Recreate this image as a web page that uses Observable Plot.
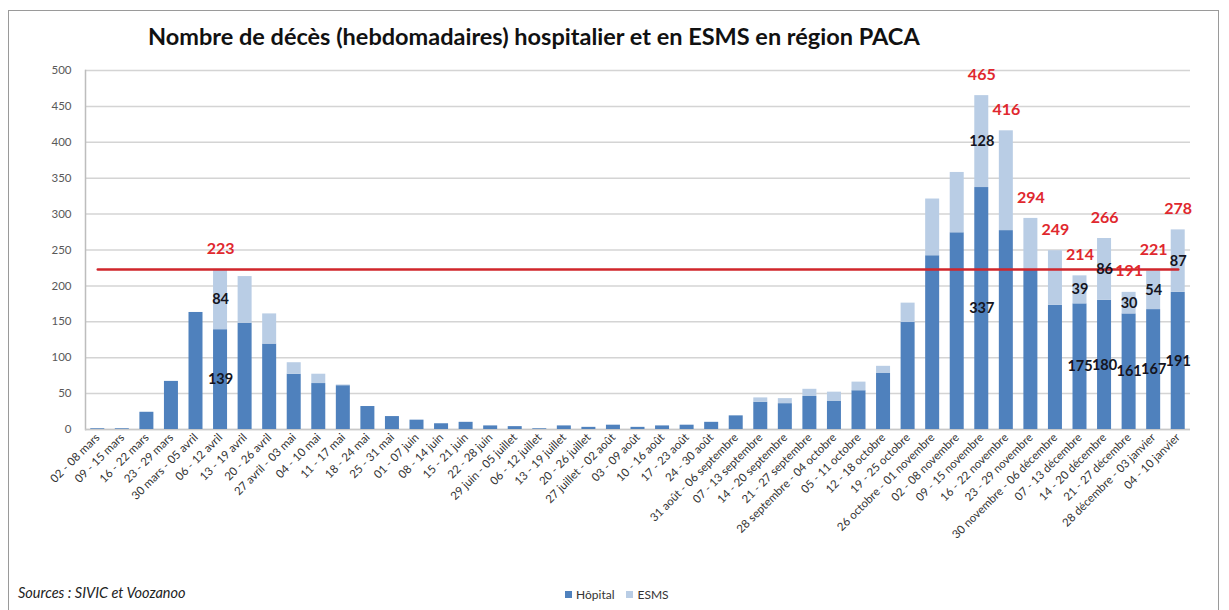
<!DOCTYPE html>
<html><head><meta charset="utf-8">
<script src="https://cdn.jsdelivr.net/npm/d3@7"></script>
<script src="https://cdn.jsdelivr.net/npm/@observablehq/plot@0.6"></script>
<style>
body{margin:0;background:#fff;font-family:Lato,"Open Sans",sans-serif;}
#wrap{position:relative;width:1229px;height:610px;overflow:hidden;background:#fff;}
#frame{position:absolute;left:8px;top:10px;width:1211px;height:640px;border:1.5px solid #9a9a9a;box-sizing:border-box;}
#title{position:absolute;left:148px;top:22px;font:bold 23.5px Lato,sans-serif;color:#111;white-space:nowrap;}
#src{position:absolute;left:18px;top:584px;font:italic 14.5px Lato,sans-serif;color:#222;white-space:nowrap;}
#legend{position:absolute;left:565px;top:587px;font:12px Lato,sans-serif;color:#333;white-space:nowrap;display:flex;align-items:center;gap:4px;}
#legend .sw{display:inline-block;width:7px;height:7px;}
#chart{position:absolute;left:0;top:0;}
</style></head>
<body>
<div id="wrap">
  <div id="frame"></div>
  <div id="chart"></div>
  <div id="title">Nombre de décès (hebdomadaires) hospitalier et en ESMS en région PACA</div>
  <div id="src">Sources : SIVIC et Voozanoo</div>
  <div id="legend"></div>
</div>
<script>
const weeks = [
  "02 - 08 mars","09 - 15 mars","16 - 22 mars","23 - 29 mars","30 mars - 05 avril",
  "06 - 12 avril","13 - 19 avril","20 - 26 avril","27 avril - 03 mai","04 - 10 mai",
  "11 - 17 mai","18 - 24 mai","25 - 31 mai","01 - 07 juin","08 - 14 juin",
  "15 - 21 juin","22 - 28 juin","29 juin - 05 juillet","06 - 12 juillet","13 - 19 juillet",
  "20 - 26 juillet","27 juillet - 02 août","03 - 09 août","10 - 16 août","17 - 23 août",
  "24 - 30 août","31 août - 06 septembre","07 - 13 septembre","14 - 20 septembre","21 - 27 septembre",
  "28 septembre - 04 octobre","05 - 11 octobre","12 - 18 octobre","19 - 25 octobre","26 octobre - 01 novembre",
  "02 - 08 novembre","09 - 15 novembre","16 - 22 novembre","23 - 29 novembre","30 novembre - 06 décembre",
  "07 - 13 décembre","14 - 20 décembre","21 - 27 décembre","28 décembre - 03 janvier","04 - 10 janvier"
];
const hopital = [1,1,24,67,163,139,148,119,77,64,61,32,18,13,8,10,5,4,1,5,3,6,3,5,6,10,19,38,36,46,39,54,78,149,242,274,337,277,222,173,175,180,161,167,191];
const esms    = [0,0,0,0,0,84,65,42,16,13,1,0,0,0,0,0,0,0,0,0,0,0,0,0,0,0,0,6,7,10,13,12,10,27,79,84,128,139,72,76,39,86,30,54,87];
const series = ["Hôpital","ESMS"];
const seriesColors = ["#4f81bd","#b9cde5"];
const yTicks = [0,50,100,150,200,250,300,350,400,450,500];
const reference = 223;
const totalLabelWeeks = ["06 - 12 avril","09 - 15 novembre","16 - 22 novembre","23 - 29 novembre","30 novembre - 06 décembre","07 - 13 décembre","14 - 20 décembre","21 - 27 décembre","28 décembre - 03 janvier","04 - 10 janvier"];
const partLabelWeeks = ["06 - 12 avril","09 - 15 novembre","07 - 13 décembre","14 - 20 décembre","21 - 27 décembre","28 décembre - 03 janvier","04 - 10 janvier"];

const long = weeks.flatMap((w,i)=>[
  {week:w, serie:series[0], value:hopital[i]},
  {week:w, serie:series[1], value:esms[i]}
]);
const rows = weeks.map((w,i)=>({week:w, hop:hopital[i], esms:esms[i], total:hopital[i]+esms[i]}));
const totalRows = rows.filter(d=>totalLabelWeeks.includes(d.week));
const partRows = rows.filter(d=>partLabelWeeks.includes(d.week));
const refLine = [{week:weeks[0], v:reference},{week:weeks[weeks.length-1], v:reference}];

const chart = Plot.plot({
  width:1229, height:610,
  marginLeft:85, marginRight:39, marginTop:70, marginBottom:181,
  style:{background:"transparent", fontFamily:"Lato, sans-serif"},
  x:{domain:weeks, paddingInner:0.43, paddingOuter:0.215, round:false, label:null, axis:null},
  y:{domain:[0,500], label:null, axis:null},
  color:{domain:series, range:seriesColors},
  marks:[
    Plot.gridY(yTicks, {stroke:"#d4d4d4", strokeOpacity:1, strokeWidth:1.5}),
    Plot.axisY(yTicks, {tickSize:0, tickPadding:14, fontSize:11.5, fill:"#595959", label:null}),
    Plot.axisX({tickRotate:-45, tickSize:0, tickPadding:6, fontSize:11.5, fill:"#333", label:null}),
    Plot.frame({anchor:"left", stroke:"#bdbdbd", strokeWidth:1.5}),
    Plot.ruleY([0], {stroke:"#c8c8c8", strokeWidth:1.5}),
    Plot.barY(long, {x:"week", y:"value", fill:"serie"}),
    Plot.lineY(refLine, {x:"week", y:"v", stroke:"#d0262b", strokeWidth:2.5}),
    Plot.text(totalRows, {x:"week", y:"total", text:"total", dy:-21, fill:"#e0282e", fontWeight:"bold", fontSize:16}),
    Plot.text(partRows, {x:"week", y:d=>d.hop+d.esms/2, text:"esms", fill:"#141420", fontWeight:"bold", fontSize:14.5}),
    Plot.text(partRows, {x:"week", y:d=>d.hop/2, text:"hop", fill:"#141420", fontWeight:"bold", fontSize:14.5})
  ]
});
document.getElementById("chart").appendChild(chart);

const legend = document.getElementById("legend");
series.forEach((s,i)=>{
  const sw = document.createElement("span"); sw.className="sw"; sw.style.background=seriesColors[i];
  const t = document.createElement("span"); t.textContent=s; t.style.marginRight="8px";
  legend.appendChild(sw); legend.appendChild(t);
});
</script>
</body></html>
